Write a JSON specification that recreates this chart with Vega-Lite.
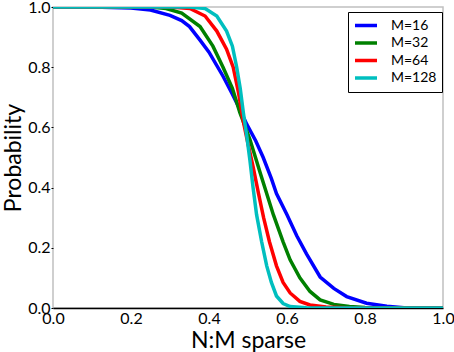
{
  "$schema": "https://vega.github.io/schema/vega-lite/v6.json",
  "width": 390,
  "height": 301,
  "autosize": {"type": "none"},
  "padding": {"left": 53, "top": 7, "right": 11, "bottom": 44},
  "background": "white",
  "config": {
    "view": {"stroke": "#c0c0c0", "strokeWidth": 1.5},
    "font": "Lato"
  },
  "datasets": {
    "curves": [
      {"M": "M=16", "x": 0.0, "p": 1.0},
      {"M": "M=16", "x": 0.1, "p": 1.0},
      {"M": "M=16", "x": 0.2, "p": 0.997},
      {"M": "M=16", "x": 0.25, "p": 0.99},
      {"M": "M=16", "x": 0.3, "p": 0.972},
      {"M": "M=16", "x": 0.33, "p": 0.955},
      {"M": "M=16", "x": 0.35, "p": 0.935},
      {"M": "M=16", "x": 0.377, "p": 0.89},
      {"M": "M=16", "x": 0.4, "p": 0.85},
      {"M": "M=16", "x": 0.436, "p": 0.77},
      {"M": "M=16", "x": 0.46, "p": 0.71},
      {"M": "M=16", "x": 0.479, "p": 0.66},
      {"M": "M=16", "x": 0.497, "p": 0.61},
      {"M": "M=16", "x": 0.52, "p": 0.555},
      {"M": "M=16", "x": 0.539, "p": 0.5},
      {"M": "M=16", "x": 0.56, "p": 0.43},
      {"M": "M=16", "x": 0.573, "p": 0.38},
      {"M": "M=16", "x": 0.6, "p": 0.31},
      {"M": "M=16", "x": 0.625, "p": 0.24},
      {"M": "M=16", "x": 0.65, "p": 0.18},
      {"M": "M=16", "x": 0.685, "p": 0.103},
      {"M": "M=16", "x": 0.72, "p": 0.065},
      {"M": "M=16", "x": 0.753, "p": 0.038},
      {"M": "M=16", "x": 0.804, "p": 0.016},
      {"M": "M=16", "x": 0.856, "p": 0.006},
      {"M": "M=16", "x": 0.9, "p": 0.001},
      {"M": "M=16", "x": 1.0, "p": 0.0},
      {"M": "M=32", "x": 0.0, "p": 1.0},
      {"M": "M=32", "x": 0.25, "p": 1.0},
      {"M": "M=32", "x": 0.29, "p": 0.995},
      {"M": "M=32", "x": 0.33, "p": 0.98},
      {"M": "M=32", "x": 0.377, "p": 0.935},
      {"M": "M=32", "x": 0.41, "p": 0.87},
      {"M": "M=32", "x": 0.436, "p": 0.8},
      {"M": "M=32", "x": 0.46, "p": 0.73},
      {"M": "M=32", "x": 0.479, "p": 0.65},
      {"M": "M=32", "x": 0.505, "p": 0.56},
      {"M": "M=32", "x": 0.531, "p": 0.45},
      {"M": "M=32", "x": 0.565, "p": 0.31},
      {"M": "M=32", "x": 0.59, "p": 0.22},
      {"M": "M=32", "x": 0.608, "p": 0.16},
      {"M": "M=32", "x": 0.633, "p": 0.1},
      {"M": "M=32", "x": 0.659, "p": 0.055},
      {"M": "M=32", "x": 0.685, "p": 0.027},
      {"M": "M=32", "x": 0.72, "p": 0.012},
      {"M": "M=32", "x": 0.76, "p": 0.005},
      {"M": "M=32", "x": 0.8, "p": 0.002},
      {"M": "M=32", "x": 1.0, "p": 0.0},
      {"M": "M=64", "x": 0.0, "p": 1.0},
      {"M": "M=64", "x": 0.3, "p": 1.0},
      {"M": "M=64", "x": 0.351, "p": 0.995},
      {"M": "M=64", "x": 0.39, "p": 0.97},
      {"M": "M=64", "x": 0.42, "p": 0.92},
      {"M": "M=64", "x": 0.445, "p": 0.86},
      {"M": "M=64", "x": 0.462, "p": 0.8},
      {"M": "M=64", "x": 0.475, "p": 0.72},
      {"M": "M=64", "x": 0.488, "p": 0.62},
      {"M": "M=64", "x": 0.5, "p": 0.545},
      {"M": "M=64", "x": 0.513, "p": 0.47},
      {"M": "M=64", "x": 0.527, "p": 0.38},
      {"M": "M=64", "x": 0.54, "p": 0.3},
      {"M": "M=64", "x": 0.555, "p": 0.22},
      {"M": "M=64", "x": 0.573, "p": 0.14},
      {"M": "M=64", "x": 0.59, "p": 0.085},
      {"M": "M=64", "x": 0.608, "p": 0.05},
      {"M": "M=64", "x": 0.633, "p": 0.022},
      {"M": "M=64", "x": 0.659, "p": 0.01},
      {"M": "M=64", "x": 0.7, "p": 0.003},
      {"M": "M=64", "x": 0.75, "p": 0.001},
      {"M": "M=64", "x": 1.0, "p": 0.0},
      {"M": "M=128", "x": 0.0, "p": 1.0},
      {"M": "M=128", "x": 0.35, "p": 1.0},
      {"M": "M=128", "x": 0.39, "p": 0.995},
      {"M": "M=128", "x": 0.42, "p": 0.97},
      {"M": "M=128", "x": 0.445, "p": 0.92},
      {"M": "M=128", "x": 0.46, "p": 0.87},
      {"M": "M=128", "x": 0.471, "p": 0.8},
      {"M": "M=128", "x": 0.48, "p": 0.73},
      {"M": "M=128", "x": 0.488, "p": 0.65},
      {"M": "M=128", "x": 0.497, "p": 0.57},
      {"M": "M=128", "x": 0.505, "p": 0.49},
      {"M": "M=128", "x": 0.513, "p": 0.4},
      {"M": "M=128", "x": 0.522, "p": 0.31},
      {"M": "M=128", "x": 0.535, "p": 0.22},
      {"M": "M=128", "x": 0.548, "p": 0.14},
      {"M": "M=128", "x": 0.56, "p": 0.085},
      {"M": "M=128", "x": 0.573, "p": 0.04},
      {"M": "M=128", "x": 0.59, "p": 0.015},
      {"M": "M=128", "x": 0.608, "p": 0.005},
      {"M": "M=128", "x": 0.65, "p": 0.001},
      {"M": "M=128", "x": 1.0, "p": 0.0}
    ]
  },
  "layer": [
    {
      "data": {"name": "curves"},
      "mark": {"type": "line", "strokeWidth": 3.5, "clip": true},
      "encoding": {
        "x": {
          "field": "x",
          "type": "quantitative",
          "scale": {"domain": [0, 1], "nice": false, "zero": false},
          "axis": {
            "values": [0, 0.2, 0.4, 0.6, 0.8, 1.0],
            "format": ".1f",
            "grid": false,
            "ticks": false,
            "domainColor": "black",
            "domainWidth": 1.5,
            "labelPadding": 2,
            "labelFont": "Lato",
            "labelFontSize": 16,
            "labelColor": "black",
            "labelFlush": false,
            "title": "N:M sparse",
            "titleFont": "Lato",
            "titleFontSize": 23,
            "titleFontWeight": "normal",
            "titleColor": "black",
            "titlePadding": 3
          }
        },
        "y": {
          "field": "p",
          "type": "quantitative",
          "scale": {"domain": [0, 1], "nice": false, "zero": false},
          "axis": {
            "values": [0, 0.2, 0.4, 0.6, 0.8, 1.0],
            "format": ".1f",
            "grid": false,
            "domain": false,
            "tickSize": 2,
            "tickColor": "black",
            "tickWidth": 1,
            "labelPadding": 1,
            "labelFont": "Lato",
            "labelFontSize": 16,
            "labelColor": "black",
            "labelFlush": false,
            "title": "Probability",
            "titleFont": "Lato",
            "titleFontSize": 23,
            "titleFontWeight": "normal",
            "titleColor": "black",
            "titlePadding": 2
          }
        },
        "color": {
          "field": "M",
          "type": "nominal",
          "sort": null,
          "scale": {
            "domain": ["M=16", "M=32", "M=64", "M=128"],
            "range": ["#0000ff", "#008000", "#ff0000", "#00bfbf"]
          },
          "legend": {
            "title": null,
            "orient": "none",
            "legendX": 295,
            "legendY": 5,
            "padding": 5,
            "strokeColor": "black",
            "fillColor": "white",
            "cornerRadius": 0,
            "symbolType": "stroke",
            "symbolSize": 484,
            "symbolStrokeWidth": 3.5,
            "clipHeight": 17,
            "rowPadding": 0.5,
            "labelOffset": 12,
            "labelFont": "Lato",
            "labelFontSize": 14,
            "labelColor": "black"
          }
        }
      }
    },
    {
      "mark": {"type": "rule", "color": "black", "strokeWidth": 1.5},
      "encoding": {"y": {"datum": 1}}
    }
  ]
}
